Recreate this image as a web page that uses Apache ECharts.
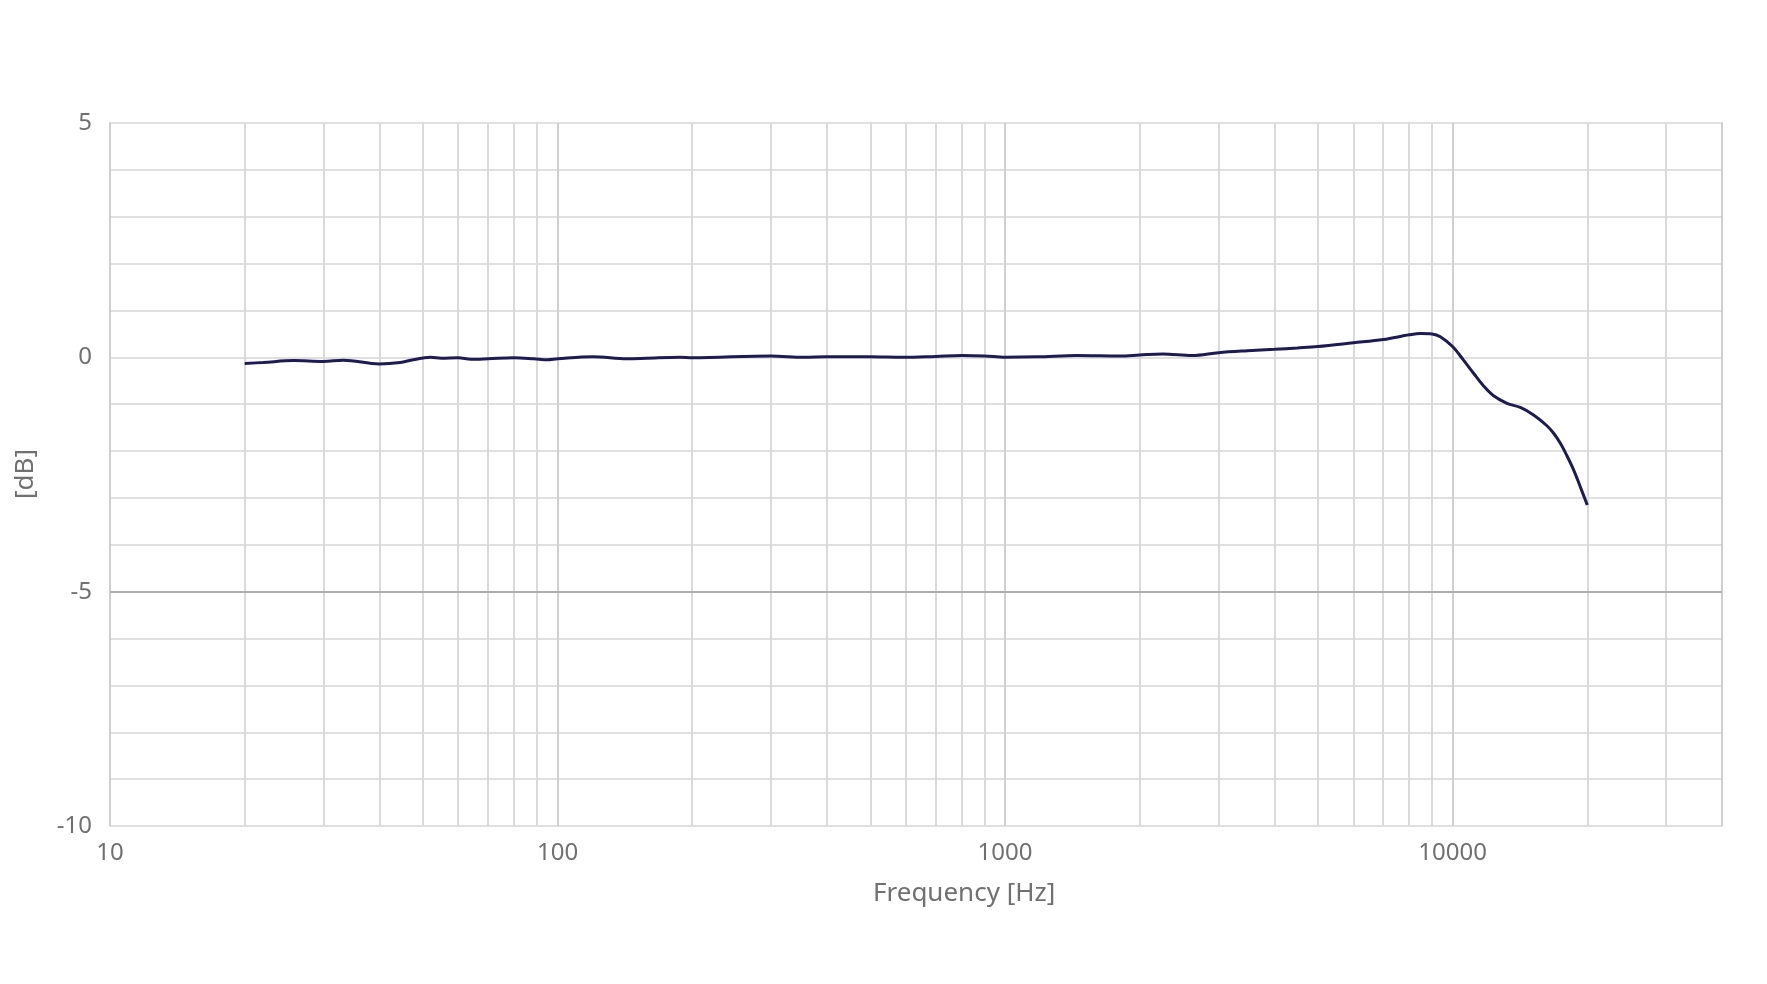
<!DOCTYPE html>
<html>
<head>
<meta charset="utf-8">
<script src="https://cdn.jsdelivr.net/npm/echarts@6/dist/echarts.min.js"></script>
<style>
html,body{margin:0;padding:0;background:#fff;}
#chart{width:1767px;height:984px;}
</style>
</head>
<body>
<div id="chart"></div>
<script>
// Frequency response data (Hz, dB)
var frequencies = [20, 22, 25.7, 30, 33.2, 40, 44.5, 47.6, 52, 55, 60, 64, 70, 80, 88.5, 95, 100, 120, 143, 158, 188, 200, 300, 355, 400, 500, 593, 700, 800, 900, 1000, 1185, 1450, 1809, 2000, 2250, 2620, 3000, 3480, 4000, 4500, 5000, 6000, 7000, 8000, 8470, 9000, 9390, 10000, 10580, 11140, 11730, 12350, 13230, 14170, 15170, 16250, 16820, 17400, 18010, 18640, 19290, 20000];
var levels = [-0.13, -0.11, -0.07, -0.09, -0.06, -0.14, -0.11, -0.05, 0.0, -0.02, -0.01, -0.04, -0.03, -0.01, -0.03, -0.05, -0.03, 0.01, -0.03, -0.02, 0.0, -0.01, 0.03, 0.0, 0.01, 0.01, 0.0, 0.02, 0.04, 0.03, 0.0, 0.01, 0.04, 0.03, 0.05, 0.07, 0.04, 0.10, 0.14, 0.17, 0.20, 0.23, 0.31, 0.38, 0.48, 0.51, 0.50, 0.44, 0.23, -0.06, -0.34, -0.61, -0.82, -0.98, -1.07, -1.23, -1.46, -1.62, -1.83, -2.10, -2.40, -2.76, -3.15];

// Axis ticks
var xMin = 10, xMax = 40000;
var yMin = -10, yMax = 5, yStep = 1;
var yLabelTicks = [-10, -5, 0, 5];
var xMinorGrid = [20, 30, 40, 50, 60, 70, 80, 90, 200, 300, 400, 500, 600, 700, 800, 900, 2000, 3000, 4000, 5000, 6000, 7000, 8000, 9000, 20000, 30000];
var yEmphasisGrid = [-5];
var xAxisTitle = 'Frequency [Hz]';
var yAxisTitle = '[dB]';

var seriesData = frequencies.map(function (f, i) { return [f, levels[i]]; });

var FONT = '"Noto Sans", sans-serif';
var chart = echarts.init(document.getElementById('chart'), null, {renderer: 'canvas'});
chart.setOption({
  backgroundColor: '#ffffff',
  animation: false,
  grid: {
    left: 110, right: 45, top: 123, bottom: 158,
    show: true, borderColor: '#dcdcdc', borderWidth: 2, backgroundColor: 'transparent'
  },
  xAxis: {
    type: 'log', logBase: 10, min: xMin, max: xMax,
    axisLine: {show: false}, axisTick: {show: false},
    axisLabel: {
      color: '#707070', fontSize: 24, fontFamily: FONT, margin: 15,
      formatter: function (v) {
        var l = Math.log10(v);
        return Math.abs(l - Math.round(l)) < 1e-6 ? String(Math.round(v)) : '';
      }
    },
    splitLine: {show: true, lineStyle: {color: '#d0d0d0', width: 2}}
  },
  yAxis: {
    type: 'value', min: yMin, max: yMax, interval: yStep,
    axisLine: {show: false}, axisTick: {show: false},
    axisLabel: {
      color: '#707070', fontSize: 24, fontFamily: FONT, margin: 18,
      formatter: function (v) { return yLabelTicks.indexOf(v) >= 0 ? String(v) : ''; }
    },
    splitLine: {show: true, lineStyle: {color: '#e0e0e0', width: 2}}
  },
  graphic: [
    {type: 'text', left: 873, top: 881, style: {text: xAxisTitle, fill: '#707070', font: '26px ' + FONT}},
    {type: 'text', x: 26, y: 474, rotation: Math.PI / 2, style: {text: yAxisTitle, fill: '#707070', font: '26px ' + FONT, align: 'center', verticalAlign: 'middle'}}
  ],
  series: [
    {
      type: 'line', name: 'grid', data: [], z: 1, silent: true,
      markLine: {
        silent: true, symbol: ['none', 'none'], label: {show: false},
        animation: false,
        data: xMinorGrid.map(function (f) { return {xAxis: f, lineStyle: {color: '#dadada', width: 2, type: 'solid'}}; })
          .concat(yEmphasisGrid.map(function (v) { return {yAxis: v, lineStyle: {color: '#adadad', width: 2, type: 'solid'}}; }))
      }
    },
    {
      type: 'line', name: 'response', data: seriesData, z: 5,
      showSymbol: false, smooth: 0.35,
      lineStyle: {color: '#1e1b50', width: 3},
      itemStyle: {color: '#1e1b50'}
    }
  ]
});
</script>
</body>
</html>
